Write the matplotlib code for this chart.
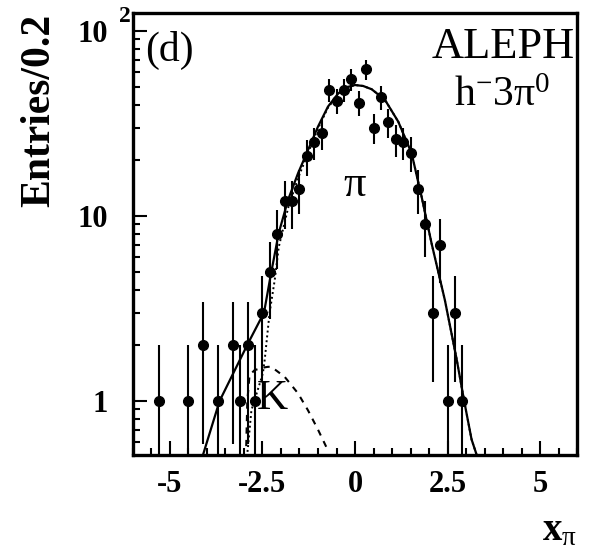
import numpy as np
import matplotlib
matplotlib.use("Agg")
import matplotlib.pyplot as plt
from matplotlib.ticker import FixedLocator, FixedFormatter, MultipleLocator, NullFormatter

plt.rcParams["font.family"] = ["Liberation Serif", "DejaVu Serif"]
plt.rcParams["mathtext.fontset"] = "custom"
plt.rcParams["mathtext.rm"] = "Liberation Serif"
plt.rcParams["mathtext.it"] = "Liberation Serif:italic"
plt.rcParams["mathtext.bf"] = "Liberation Serif:bold"

# data points (bin centres, entries per 0.2)
bin_x = [-5.3, -4.5, -4.1, -3.7, -3.3, -3.1, -2.9, -2.7, -2.5, -2.3, -2.1, -1.9,
         -1.7, -1.5, -1.3, -1.1, -0.9, -0.7, -0.5, -0.3, -0.1, 0.1, 0.3, 0.5,
         0.7, 0.9, 1.1, 1.3, 1.5, 1.7, 1.9, 2.1, 2.3, 2.5, 2.7, 2.9]
entries = [1, 1, 2, 1, 2, 1, 2, 1, 3, 5, 8, 12,
           12, 14, 21, 25, 28, 48, 42, 48, 55, 41, 62, 30,
           44, 32, 26, 25, 22, 14, 9, 3, 7, 1, 3, 1]

# total fit (solid)
total_x = [-4.11, -3.66, -2.89, -2.46, -2.26, -2.06, -1.81, -1.54, -1.27, -1.0,
           -0.73, -0.45, -0.23, 0.0, 0.22, 0.45, 0.81, 1.17, 1.53, 1.80, 2.07,
           2.43, 2.75, 2.95, 3.15, 3.29]
total_y = [0.51, 1.0, 2.05, 3.0, 5.0, 8.1, 12.2, 17.0, 22.7, 30.4,
           39.0, 46.0, 49.6, 51.0, 50.4, 48.4, 42.4, 32.3, 21.8, 12.7, 7.1,
           3.5, 1.67, 1.0, 0.62, 0.51]

# pion component (dotted)
pi_x = [-2.92, -2.89, -2.80, -2.49, -2.44, -2.31, -2.17, -2.06, -1.81, -1.54,
        -1.27, -1.0, -0.73, -0.45, -0.23, 0.0, 0.22, 0.45, 0.81, 1.17, 1.53,
        1.80, 2.07, 2.43, 2.75, 2.95, 3.15, 3.29]
pi_y = [0.5, 0.57, 0.89, 1.41, 1.67, 2.98, 4.5, 6.8, 11.0, 16.0,
        21.8, 29.7, 38.5, 45.5, 49.3, 51.0, 50.4, 48.4, 42.4, 32.3, 21.8,
        12.7, 7.1, 3.5, 1.67, 1.0, 0.62, 0.51]

# kaon component (dashed)
k_x = [-2.94, -2.91, -2.85, -2.71, -2.44, -2.35, -2.26, -1.90, -1.54, -1.27,
       -1.0, -0.73]
k_y = [0.57, 1.0, 1.38, 1.47, 1.52, 1.53, 1.53, 1.35, 1.10, 0.89,
       0.70, 0.54]

x_ticks = [-5, -2.5, 0, 2.5, 5]
x_tick_labels = ["-5", "-2.5", "0", "2.5", "5"]
y_ticks = [1, 10, 100]
y_tick_labels = ["1", "10", "10"]


def plot_spectrum() -> None:
    fig = plt.figure(figsize=(5.9, 5.55), dpi=100)
    ax = fig.add_axes([0.2254, 0.180, 0.7526, 0.7966])

    y = np.array(entries, dtype=float)
    ax.errorbar(bin_x, y, yerr=np.sqrt(y), fmt="o", color="black", ms=7,
                elinewidth=1.5, capsize=0, zorder=3)
    ax.plot(total_x, total_y, color="black", lw=1.6)
    ax.plot(pi_x, pi_y, color="black", lw=1.4, ls=(0, (1, 1.5)))
    ax.plot(k_x, k_y, color="black", lw=1.5, ls=(0, (3, 3)))

    ax.set_yscale("log")
    ax.set_xlim(-6, 6)
    ax.set_ylim(0.51, 125)

    ax.xaxis.set_major_locator(FixedLocator(x_ticks))
    ax.xaxis.set_major_formatter(FixedFormatter(x_tick_labels))
    ax.xaxis.set_minor_locator(MultipleLocator(0.5))
    ax.yaxis.set_major_locator(FixedLocator(y_ticks))
    ax.yaxis.set_major_formatter(FixedFormatter(y_tick_labels))
    minor_y = [m * d for d in (0.1, 1, 10) for m in range(2, 10)]
    ax.yaxis.set_minor_locator(FixedLocator(minor_y))
    ax.yaxis.set_minor_formatter(NullFormatter())

    ax.tick_params(which="both", direction="in", top=False, right=False, width=1.5)
    ax.tick_params(which="major", length=10)
    ax.tick_params(which="minor", length=5)
    ax.tick_params(axis="x", which="major", pad=11)
    ax.tick_params(axis="y", which="major", pad=18)
    for lab in ax.get_xticklabels() + ax.get_yticklabels():
        lab.set_fontsize(22)
        lab.set_fontweight("bold")
    for sp in ax.spines.values():
        sp.set_linewidth(2.4)

    fig.text(119 / 590, 1 - 16 / 555, "2", fontsize=17, fontweight="bold",
             ha="left", va="center")
    fig.text(39 / 590, 1 - 14 / 555, "Entries/0.2", rotation=90, fontsize=30,
             fontweight="bold", ha="center", va="top")
    fig.text(0.978, 0.01, r"$\mathbf{x}_{\mathrm{\pi}}$", fontsize=28, ha="right",
             va="bottom")

    ax.text(145 / 590, 1 - 50 / 555, "(d)", transform=fig.transFigure,
            fontsize=30, ha="left", va="center")
    ax.text(575 / 590, 1 - 47 / 555, "ALEPH", transform=fig.transFigure,
            fontsize=32, ha="right", va="center")
    ax.text(502 / 590, 1 - 96 / 555, r"$\mathrm{h^{-}3\pi^{0}}$",
            transform=fig.transFigure, fontsize=30, ha="center", va="center")
    ax.text(355 / 590, 1 - 185 / 555, r"$\mathrm{\pi}$", transform=fig.transFigure,
            fontsize=32, ha="center", va="center")
    ax.text(272 / 590, 1 - 399 / 555, "K", transform=fig.transFigure,
            fontsize=31, ha="center", va="center")

    fig.savefig("out.png", dpi=100)


if __name__ == "__main__":
    plot_spectrum()
